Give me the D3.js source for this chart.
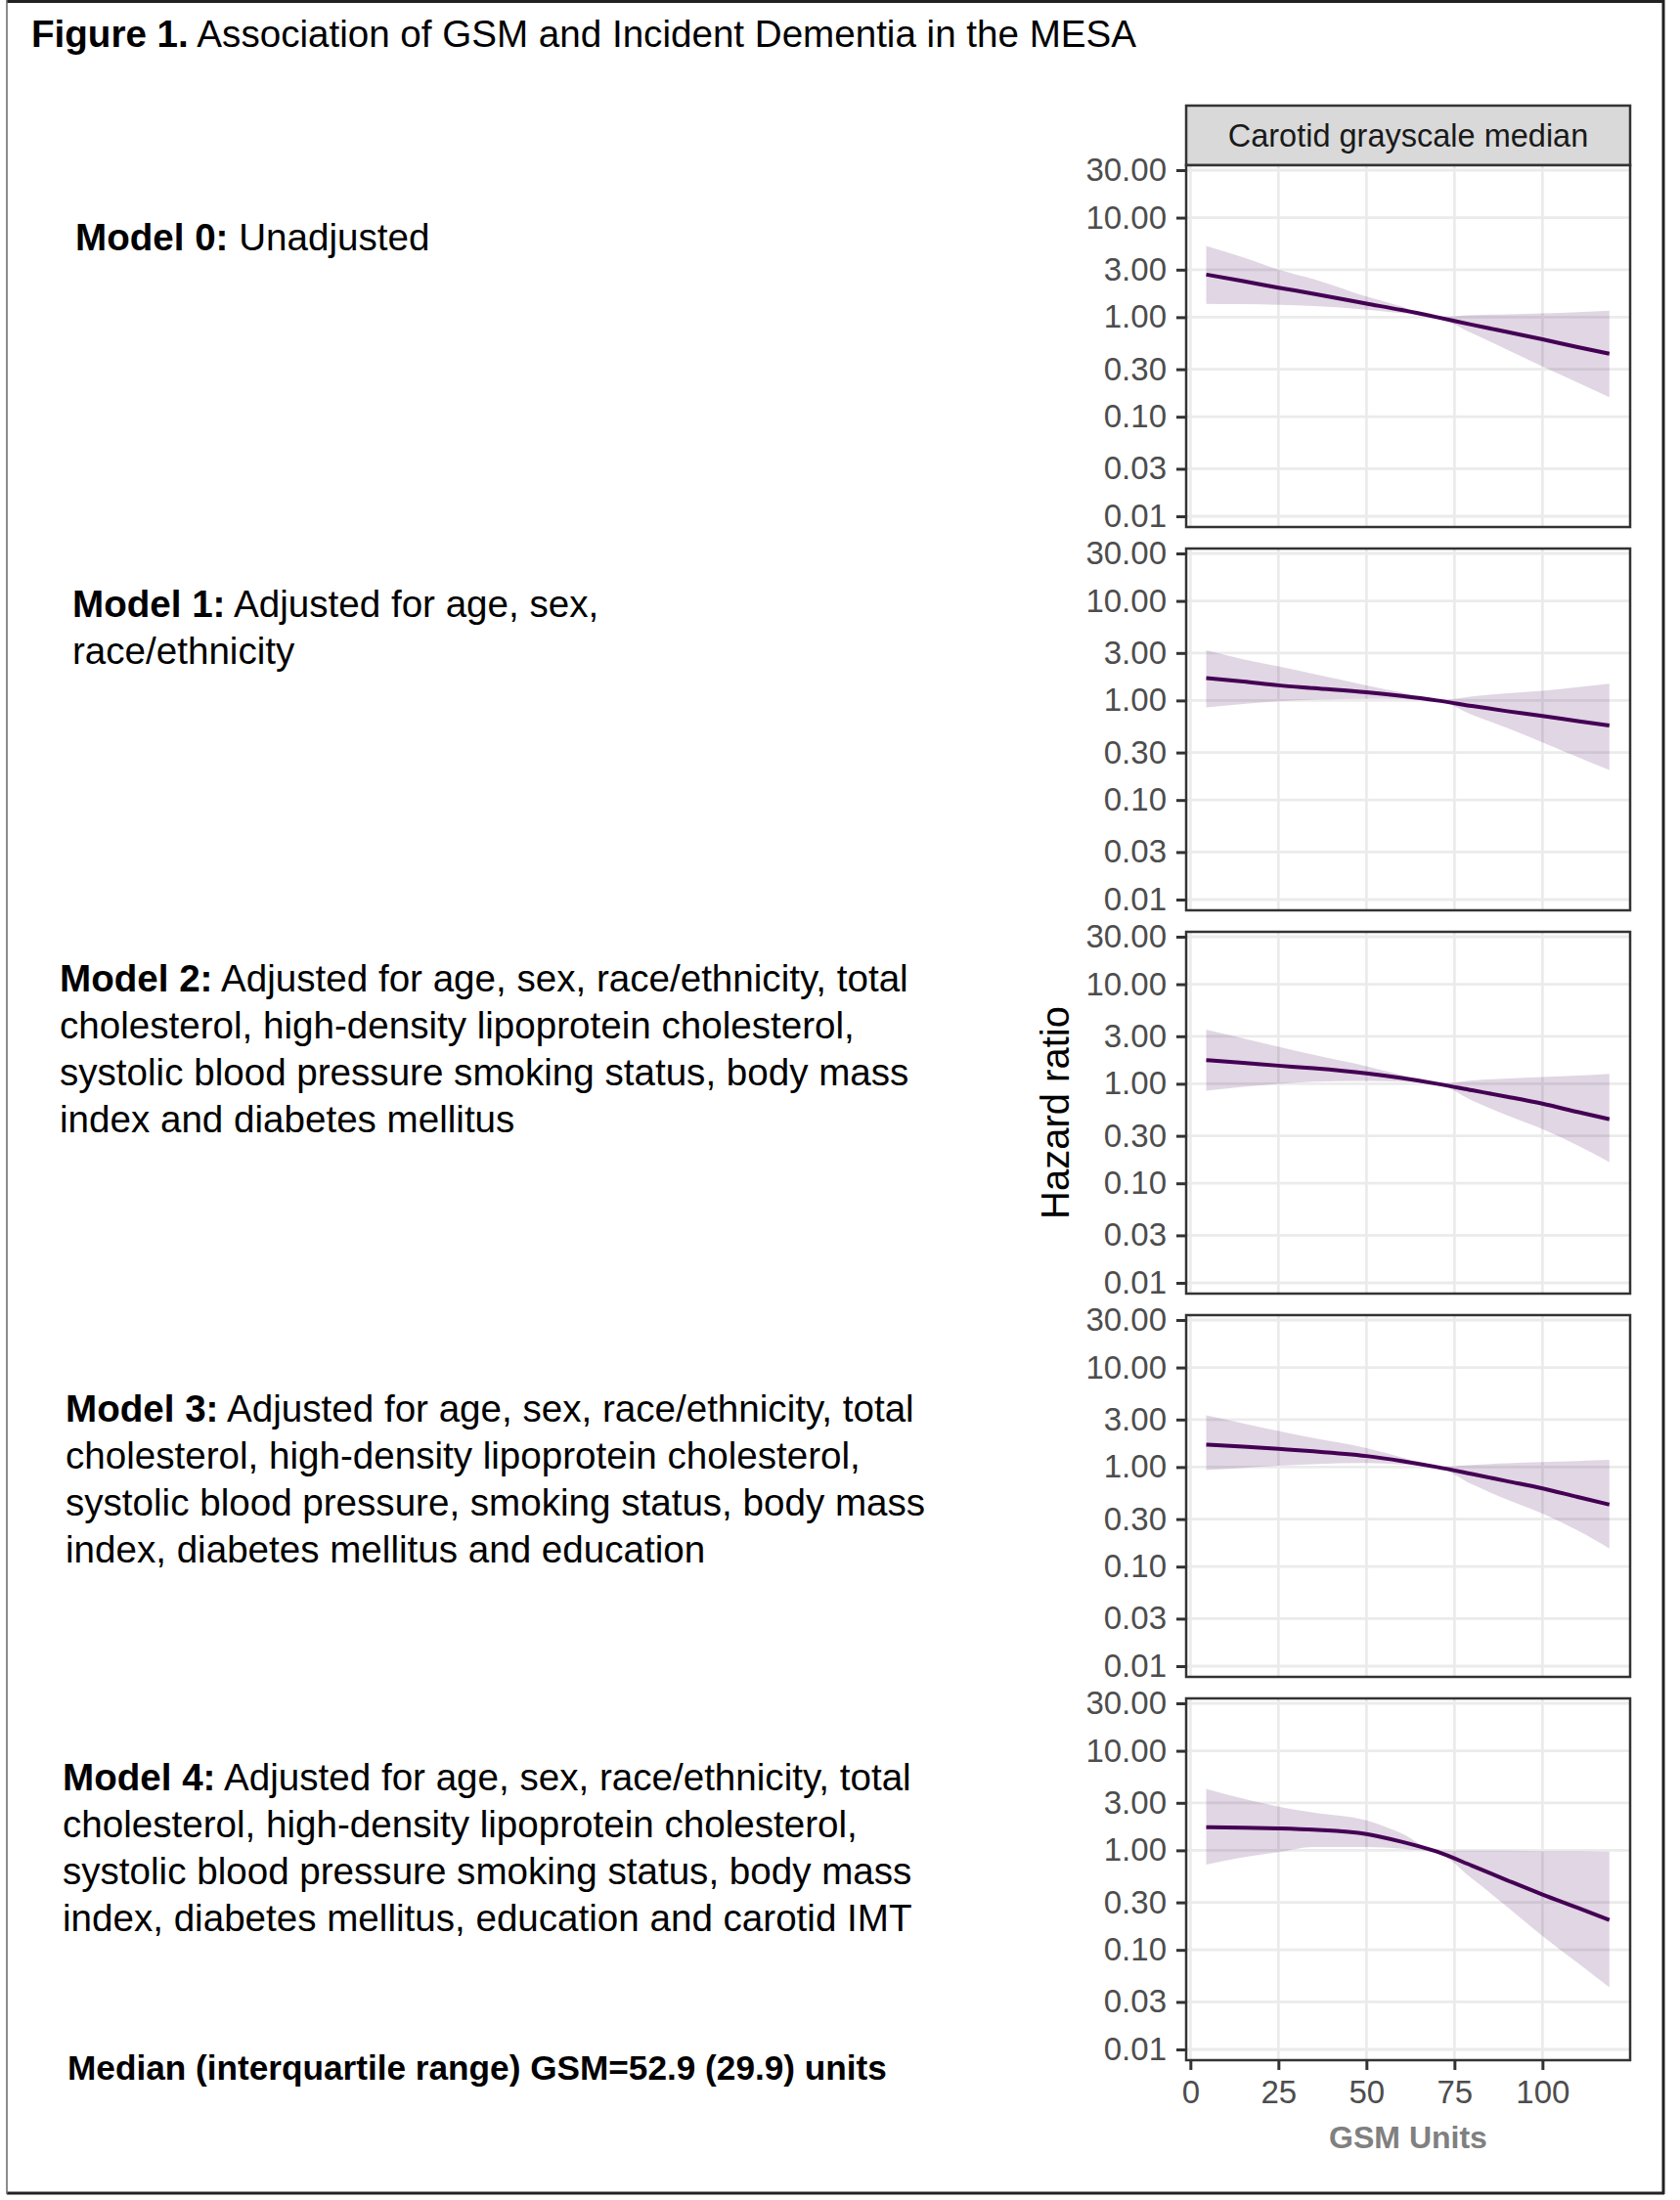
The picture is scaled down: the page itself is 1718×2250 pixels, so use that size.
<!DOCTYPE html>
<html><head><meta charset="utf-8">
<script src="https://cdn.jsdelivr.net/npm/d3@7"></script>
<style>body{margin:0;background:#fff} svg{display:block}</style>
</head><body>
<svg id="c" width="1718" height="2250"></svg>
<script>
// ---------- data ----------
const gsm = [4.5, 15, 25, 35, 50, 60, 70, 80, 90, 100, 110, 119];

const hr0 = [2.68, 2.30, 1.98, 1.72, 1.37, 1.18, 1.00, 0.84, 0.71, 0.60, 0.50, 0.43];
const lo0 = [1.36, 1.35, 1.33, 1.29, 1.19, 1.10, 1.00, 0.69, 0.47, 0.32, 0.22, 0.157];
const hi0 = [5.19, 3.98, 3.00, 2.41, 1.61, 1.28, 1.00, 1.05, 1.07, 1.09, 1.12, 1.16];

const hr1 = [1.68, 1.55, 1.42, 1.33, 1.21, 1.11, 1.00, 0.88, 0.78, 0.70, 0.62, 0.56];
const lo1 = [0.85, 0.92, 0.98, 1.02, 1.04, 1.03, 1.00, 0.72, 0.53, 0.38, 0.27, 0.20];
const hi1 = [3.20, 2.60, 2.20, 1.85, 1.42, 1.20, 1.00, 1.10, 1.18, 1.25, 1.36, 1.47];

const hr2 = [1.73, 1.62, 1.52, 1.43, 1.27, 1.14, 1.00, 0.86, 0.74, 0.63, 0.52, 0.44];
const lo2 = [0.85, 0.93, 1.00, 1.05, 1.07, 1.05, 1.00, 0.68, 0.48, 0.35, 0.24, 0.163];
const hi2 = [3.50, 2.85, 2.35, 1.95, 1.50, 1.22, 1.00, 1.08, 1.13, 1.17, 1.21, 1.26];

const hr3 = [1.68, 1.60, 1.52, 1.44, 1.29, 1.15, 1.00, 0.85, 0.72, 0.61, 0.50, 0.42];
const lo3 = [0.93, 0.98, 1.03, 1.07, 1.10, 1.06, 1.00, 0.67, 0.47, 0.34, 0.23, 0.152];
const hi3 = [3.30, 2.75, 2.30, 1.95, 1.55, 1.25, 1.00, 1.05, 1.09, 1.12, 1.15, 1.18];

const hr4 = [1.71, 1.69, 1.66, 1.61, 1.46, 1.22, 0.97, 0.70, 0.50, 0.36, 0.265, 0.20];
const lo4 = [0.72, 0.85, 0.96, 1.08, 1.08, 1.04, 0.95, 0.52, 0.27, 0.138, 0.074, 0.042];
const hi4 = [4.15, 3.30, 2.75, 2.40, 2.00, 1.48, 0.99, 0.99, 0.99, 0.98, 0.98, 0.97];

const yTicks = [0.01, 0.03, 0.1, 0.3, 1, 3, 10, 30];
const xTicks = [0, 25, 50, 75, 100];

const titleBold = "Figure 1.";
const titleRest = " Association of GSM and Incident Dementia in the MESA";
const stripLabel = "Carotid grayscale median";
const yTitle = "Hazard ratio";
const xTitle = "GSM Units";
const modelLabels = ["Model 0:", "Model 1:", "Model 2:", "Model 3:", "Model 4:"];
const modelText = [
  ["Unadjusted"],
  ["Adjusted for age, sex,", "race/ethnicity"],
  ["Adjusted for age, sex, race/ethnicity, total", "cholesterol, high-density lipoprotein cholesterol,", "systolic blood pressure smoking status, body mass", "index and diabetes mellitus"],
  ["Adjusted for age, sex, race/ethnicity, total", "cholesterol, high-density lipoprotein cholesterol,", "systolic blood pressure, smoking status, body mass", "index, diabetes mellitus and education"],
  ["Adjusted for age, sex, race/ethnicity, total", "cholesterol, high-density lipoprotein cholesterol,", "systolic blood pressure smoking status, body mass", "index, diabetes mellitus, education and carotid IMT"]
];
const footnote = "Median (interquartile range) GSM=52.9 (29.9) units";

const models = [[hr0, lo0, hi0], [hr1, lo1, hi1], [hr2, lo2, hi2], [hr3, lo3, hi3], [hr4, lo4, hi4]];

// ---------- layout ----------
const svg = d3.select("#c");
const FONT = "'Liberation Sans', Arial, Helvetica, sans-serif";
const pLeft = 1213, pRight = 1667, pTop0 = 169, pH = 370, pPitch = 392;
const x = d3.scaleLinear().domain([-1.2, 124.9]).range([pLeft, pRight]);

// outer frame
svg.append("line").attr("x1", 7).attr("x2", 1702).attr("y1", 1.5).attr("y2", 1.5).attr("stroke", "#222").attr("stroke-width", 3);
svg.append("line").attr("x1", 1701).attr("x2", 1701).attr("y1", 0).attr("y2", 2244).attr("stroke", "#222").attr("stroke-width", 3);
svg.append("line").attr("x1", 7).attr("x2", 1702).attr("y1", 2243).attr("y2", 2243).attr("stroke", "#222").attr("stroke-width", 3);
svg.append("line").attr("x1", 7).attr("x2", 7).attr("y1", 0).attr("y2", 2244).attr("stroke", "#666").attr("stroke-width", 1.5);

// title
const tt = svg.append("text").attr("x", 32).attr("y", 48).attr("font-family", FONT).attr("font-size", 38.6).attr("fill", "#000");
tt.append("tspan").attr("font-weight", "bold").text(titleBold);
tt.append("tspan").text(titleRest);

// left descriptions
const textX = [77, 74, 61, 67, 64];
const textY = [256, 631, 1014, 1454, 1831];
const lineH = 48;
modelText.forEach((lines, i) => {
  lines.forEach((ln, j) => {
    const t = svg.append("text").attr("x", textX[i]).attr("y", textY[i] + j * lineH)
      .attr("font-family", FONT).attr("font-size", 38.6).attr("fill", "#000");
    if (j === 0) {
      t.append("tspan").attr("font-weight", "bold").text(modelLabels[i]);
      t.append("tspan").text(" " + ln);
    } else t.text(ln);
  });
});
svg.append("text").attr("x", 69).attr("y", 2127).attr("font-family", FONT).attr("font-size", 35.2)
  .attr("font-weight", "bold").attr("fill", "#000").text(footnote);

// strip
svg.append("rect").attr("x", pLeft).attr("y", 108).attr("width", pRight - pLeft).attr("height", pTop0 - 108)
  .attr("fill", "#D9D9D9").attr("stroke", "#333").attr("stroke-width", 2.5);
svg.append("text").attr("x", (pLeft + pRight) / 2).attr("y", 150).attr("text-anchor", "middle")
  .attr("font-family", FONT).attr("font-size", 32.5).attr("fill", "#1A1A1A").text(stripLabel);

// panels
models.forEach((m, k) => {
  const top = pTop0 + k * pPitch;
  const y = d3.scaleLog().domain([0.01, 30]).range([top + 359, top + 5]);
  const g = svg.append("g");
  g.append("rect").attr("x", pLeft).attr("y", top).attr("width", pRight - pLeft).attr("height", pH).attr("fill", "#fff");
  // grid
  g.selectAll(".gy").data(yTicks).join("line").attr("x1", pLeft).attr("x2", pRight)
    .attr("y1", d => y(d)).attr("y2", d => y(d)).attr("stroke", "#EBEBEB").attr("stroke-width", 2.8);
  g.selectAll(".gx").data(xTicks).join("line").attr("y1", top).attr("y2", top + pH)
    .attr("x1", d => x(d)).attr("x2", d => x(d)).attr("stroke", "#EBEBEB").attr("stroke-width", 2.8);
  const pts = gsm.map((v, i) => ({ x: v, hr: m[0][i], lo: m[1][i], hi: m[2][i] }));
  const area = d3.area().x(d => x(d.x)).y0(d => y(d.lo)).y1(d => y(d.hi)).curve(d3.curveMonotoneX);
  const line = d3.line().x(d => x(d.x)).y(d => y(d.hr)).curve(d3.curveMonotoneX);
  g.append("path").datum(pts).attr("d", area).attr("fill", "#440154").attr("fill-opacity", 0.16);
  g.append("path").datum(pts).attr("d", line).attr("fill", "none").attr("stroke", "#440154").attr("stroke-width", 4);
  g.append("rect").attr("x", pLeft).attr("y", top).attr("width", pRight - pLeft).attr("height", pH)
    .attr("fill", "none").attr("stroke", "#333").attr("stroke-width", 2.5);
  // y axis
  const ya = svg.append("g").attr("transform", `translate(${pLeft},0)`)
    .call(d3.axisLeft(y).tickValues(yTicks).tickFormat(d3.format(".2f")).tickSize(10).tickPadding(10));
  ya.select(".domain").remove();
  ya.selectAll(".tick line").attr("stroke", "#333").attr("stroke-width", 3);
  ya.selectAll(".tick text").attr("font-family", FONT).attr("font-size", 33).attr("fill", "#4D4D4D");
  if (k === models.length - 1) {
    const xa = svg.append("g").attr("transform", `translate(0,${top + pH})`)
      .call(d3.axisBottom(x).tickValues(xTicks).tickFormat(d3.format("d")).tickSize(10).tickPadding(11));
    xa.select(".domain").remove();
    xa.selectAll(".tick line").attr("stroke", "#333").attr("stroke-width", 3);
    xa.selectAll(".tick text").attr("font-family", FONT).attr("font-size", 33).attr("fill", "#4D4D4D");
    svg.append("text").attr("x", (pLeft + pRight) / 2).attr("y", top + pH + 90).attr("text-anchor", "middle")
      .attr("font-family", FONT).attr("font-size", 32).attr("font-weight", "bold").attr("fill", "#808080").text(xTitle);
  }
});

// y title
const yc = pTop0 + (4 * pPitch + pH) / 2;
svg.append("text").attr("transform", `translate(1093,${yc}) rotate(-90)`).attr("text-anchor", "middle")
  .attr("font-family", FONT).attr("font-size", 40).attr("fill", "#000").text(yTitle);
</script>
</body></html>
